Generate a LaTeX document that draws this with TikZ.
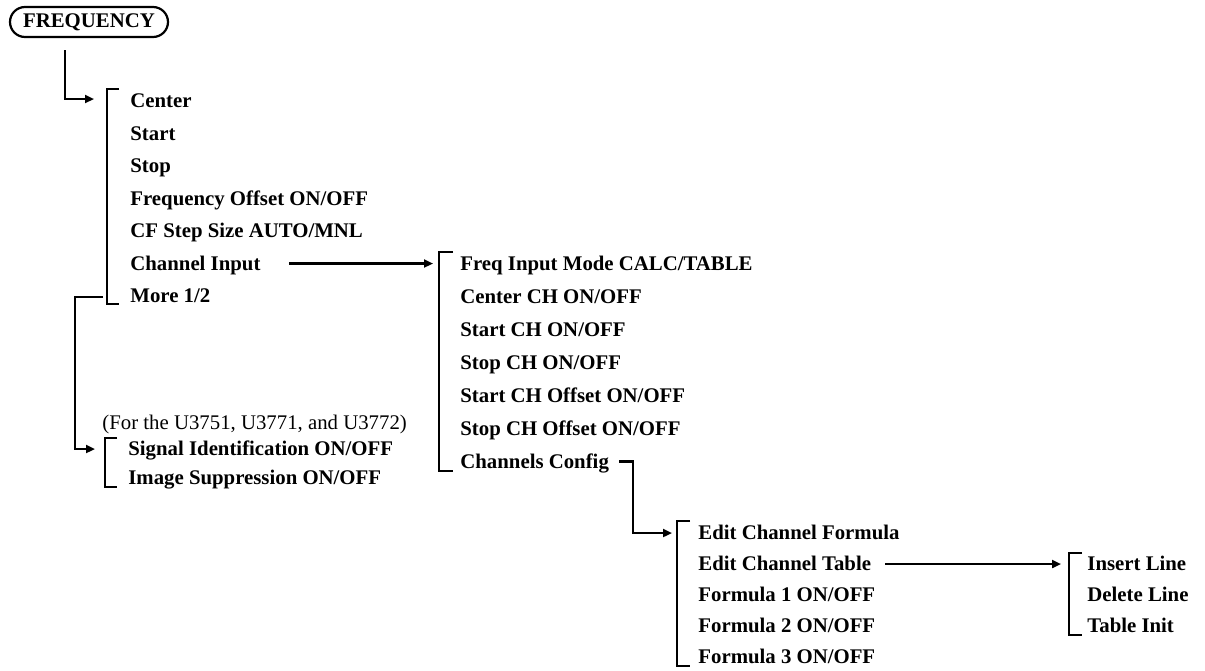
\documentclass[tikz,border=0pt]{standalone}
\usepackage{fontspec}
\setmainfont{Liberation Serif}
\usepackage{tikz}
\usetikzlibrary{arrows.meta,positioning,calc}
\newcommand{\menufont}{\fontsize{10.4pt}{12.5pt}\selectfont}
\tikzset{
  keybox/.style={draw, rounded corners=7.5pt, line width=1.1pt, font=\menufont\bfseries, minimum width=79pt, minimum height=15pt, inner sep=0pt},
  item/.style={anchor=west, font=\menufont\bfseries, inner sep=0pt, text height=0.66em, text depth=0pt},
  note/.style={anchor=west, font=\menufont, inner sep=0pt, text height=0.66em, text depth=0pt},
  bracket/.style={line width=1.1pt},
  link/.style={line width=1.1pt, -{Triangle[length=4.5pt, width=4pt]}}
}

\begin{document}
\begin{tikzpicture}[x=0.5pt, y=-0.5pt]
  \useasboundingbox (0,0) rectangle (1205,670);

  \node[keybox] (freq) at (89,22) {FREQUENCY};

  % first menu
  \node[item] (center) at (130,101) {Center};
  \node[item] (start) at (130,133.5) {Start};
  \node[item] (stop) at (130,166) {Stop};
  \node[item] (offset) at (130,198.5) {Frequency Offset ON/OFF};
  \node[item] (cfstep) at (130,231) {CF Step Size AUTO/MNL};
  \node[item] (chin) at (130,263.5) {Channel Input};
  \node[item] (more) at (130,296) {More 1/2};
  \draw[bracket] (119,89) -| (107,304) -- (119,304);
  \coordinate (mainin) at (94,99);

  % second page (more 1/2)
  \node[note] (models) at (102,423) {(For the U3751, U3771, and U3772)};
  \node[item] (signal) at (128,449) {Signal Identification ON/OFF};
  \node[item] (image) at (128,478) {Image Suppression ON/OFF};
  \draw[bracket] (117,438) -| (105,487) -- (117,487);
  \coordinate (sigin) at (95,449);

  % channel input menu
  \node[item] (mode) at (460,263.5) {Freq Input Mode CALC/TABLE};
  \node[item] (cech) at (460,296.5) {Center CH ON/OFF};
  \node[item] (stch) at (460,329.5) {Start CH ON/OFF};
  \node[item] (spch) at (460,362.5) {Stop CH ON/OFF};
  \node[item] (stoff) at (460,395.5) {Start CH Offset ON/OFF};
  \node[item] (spoff) at (460,428.5) {Stop CH Offset ON/OFF};
  \node[item] (config) at (460,461.5) {Channels Config};
  \draw[bracket] (453,252) -| (439,471) -- (453,471);
  \coordinate (subin) at (433,263.5);

  % channels config menu
  \node[item] (formula) at (698,533) {Edit Channel Formula};
  \node[item] (table) at (698,564) {Edit Channel Table};
  \node[item] (fone) at (698,595) {Formula 1 ON/OFF};
  \node[item] (ftwo) at (698,626) {Formula 2 ON/OFF};
  \node[item] (fthree) at (698,657) {Formula 3 ON/OFF};
  \draw[bracket] (690,521) -| (677,666) -- (690,666);
  \coordinate (editin) at (672,533);

  % edit channel table menu
  \node[item] (insert) at (1087,564) {Insert Line};
  \node[item] (delete) at (1087,595) {Delete Line};
  \node[item] (init) at (1087,626) {Table Init};
  \draw[bracket] (1082,553) -| (1069,635) -- (1082,635);
  \coordinate (tablein) at (1061,564);

  \draw[link] ($(freq.south)+(-24,12)$) |- (mainin);
  \draw[link] ($(more.west)+(-27,1)$) -- ++(-28,0) |- (sigin);
  \draw[link] ($(chin.east)+(28,0)$) -- (subin);
  \draw[link] ($(config.east)+(10,0)$) -- ++(14,0) |- (editin);
  \draw[link] ($(table.east)+(14,0)$) -- (tablein);
\end{tikzpicture}
\end{document}
